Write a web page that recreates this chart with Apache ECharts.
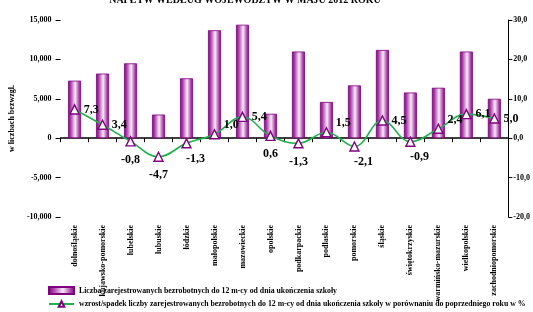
<!DOCTYPE html>
<html>
<head>
<meta charset="utf-8">
<script src="https://cdn.jsdelivr.net/npm/echarts@6/dist/echarts.min.js"></script>
<style>
  html, body { margin: 0; padding: 0; background: #fff; }
  #chart { width: 533px; height: 312px; }
</style>
</head>
<body>
<div id="chart"></div>
<script>
// województwa
const categories = ['dolnośląskie', 'kujawsko-pomorskie', 'lubelskie', 'lubuskie', 'łódzkie',
    'małopolskie', 'mazowieckie', 'opolskie', 'podkarpackie', 'podlaskie', 'pomorskie',
    'śląskie', 'świętokrzyskie', 'warmińsko-mazurskie', 'wielkopolskie', 'zachodniopomorskie']

// liczba zarejestrowanych bezrobotnych do 12 m-cy od dnia ukończenia szkoły
const barValues = [7300, 8200, 9500, 3000, 7600, 13700, 14400, 3100,
    11000, 4600, 6700, 11200, 5800, 6400, 11000, 5000]

// wzrost/spadek w %
const lineValues = [7.3, 3.4, -0.8, -4.7, -1.3, 1.0, 5.4, 0.6,
    -1.3, 1.5, -2.1, 4.5, -0.9, 2.4, 6.1, 5.0]

const barName = 'Liczba zarejestrowanych bezrobotnych do 12 m-cy od dnia ukończenia szkoły'
const lineName = 'wzrost/spadek liczby zarejestrowanych bezrobotnych do 12 m-cy od dnia ukończenia szkoły w porównaniu do poprzedniego roku w %'

const font = 'Liberation Serif'
const comma = v => v.toFixed(1).replace('.', ',')

const chart = echarts.init(document.getElementById('chart'))

// where each percent label sits relative to its point
const labelPlace = ['right', 'right', 'bottom', 'bottom', 'bottomRight', 'topRight', 'right', 'bottom',
    'bottom', 'topRight', 'bottomRight', 'right', 'bottomRight', 'topRight', 'right', 'right']
const placeOpts = {
    right: { position: 'right', offset: [0, 0] },
    bottom: { position: 'bottom', offset: [0, 3] },
    bottomRight: { position: 'bottom', offset: [9, 0] },
    topRight: { position: 'right', offset: [0, -9] }
}

const legendText = { fontFamily: font, fontSize: 7.8, fontWeight: 'bold', color: '#000' }

const option = {
    animation: false,
    title: {
        text: 'NAPŁYW WEDŁUG WOJEWÓDZTW W MAJU 2012 ROKU',
        left: 240, top: -10, textAlign: 'center',
        textStyle: { fontFamily: font, fontSize: 10, fontWeight: 'bold', color: '#000' }
    },
    grid: { left: 52, right: 24, top: 20, bottom: 95 },
    legend: [{
        left: 43, top: 281,
        icon: 'rect',
        itemWidth: 25, itemHeight: 7, itemGap: 0,
        textStyle: legendText,
        data: [barName]
    }, {
        left: 43, top: 295,
        itemWidth: 25, itemHeight: 7, itemGap: 0,
        textStyle: legendText,
        data: [lineName]
    }],
    xAxis: {
        type: 'category',
        data: categories,
        axisLine: { onZero: true, onZeroAxisIndex: 0, lineStyle: { color: '#000', width: 1.5 } },
        axisTick: { show: true, length: 4, lineStyle: { color: '#000' } },
        axisLabel: {
            interval: 0, rotate: 90, margin: 8,
            fontFamily: font, fontSize: 8, fontWeight: 'bold', color: '#000'
        }
    },
    yAxis: [{
        type: 'value',
        min: -10000, max: 15000, interval: 5000,
        name: 'w liczbach bezwzgl.',
        nameLocation: 'middle', nameRotate: 90, nameGap: 40,
        nameTextStyle: { fontFamily: font, fontSize: 8, fontWeight: 'bold', color: '#000' },
        axisLine: { show: false },
        axisTick: { show: true, length: 5, lineStyle: { color: '#000' } },
        splitLine: { show: false },
        axisLabel: { fontFamily: font, fontSize: 8, fontWeight: 'bold', color: '#000', margin: 9 }
    }, {
        type: 'value',
        min: -20, max: 30, interval: 10,
        axisLine: { show: true, lineStyle: { color: '#000' } },
        axisTick: { show: true, length: 4, lineStyle: { color: '#000' } },
        splitLine: { show: false },
        axisLabel: {
            fontFamily: font, fontSize: 8, fontWeight: 'bold', color: '#000', margin: 5,
            formatter: comma
        }
    }],
    series: [{
        name: barName,
        type: 'bar',
        yAxisIndex: 0,
        barWidth: 13,
        data: barValues,
        itemStyle: {
            color: new echarts.graphic.LinearGradient(0, 0, 1, 0, [
                { offset: 0, color: '#7a0078' },
                { offset: 0.2, color: '#a640a4' },
                { offset: 0.55, color: '#fbeafb' },
                { offset: 0.85, color: '#a640a4' },
                { offset: 1, color: '#7a0078' }
            ]),
            borderColor: '#800080',
            borderWidth: 0.8
        }
    }, {
        name: lineName,
        type: 'line',
        yAxisIndex: 1,
        smooth: 0.4,
        symbol: 'triangle',
        symbolSize: 9,
        z: 5,
        lineStyle: { color: '#1db34a', width: 1.6 },
        itemStyle: { color: '#fff', borderColor: '#800080', borderWidth: 1.4 },
        data: lineValues.map((v, i) => ({
            value: v,
            label: placeOpts[labelPlace[i]]
        })),
        label: {
            show: true,
            distance: 4,
            formatter: p => comma(p.value),
            fontFamily: font, fontSize: 12, fontWeight: 'bold', color: '#000'
        }
    }]
}

chart.setOption(option)
</script>
</body>
</html>
